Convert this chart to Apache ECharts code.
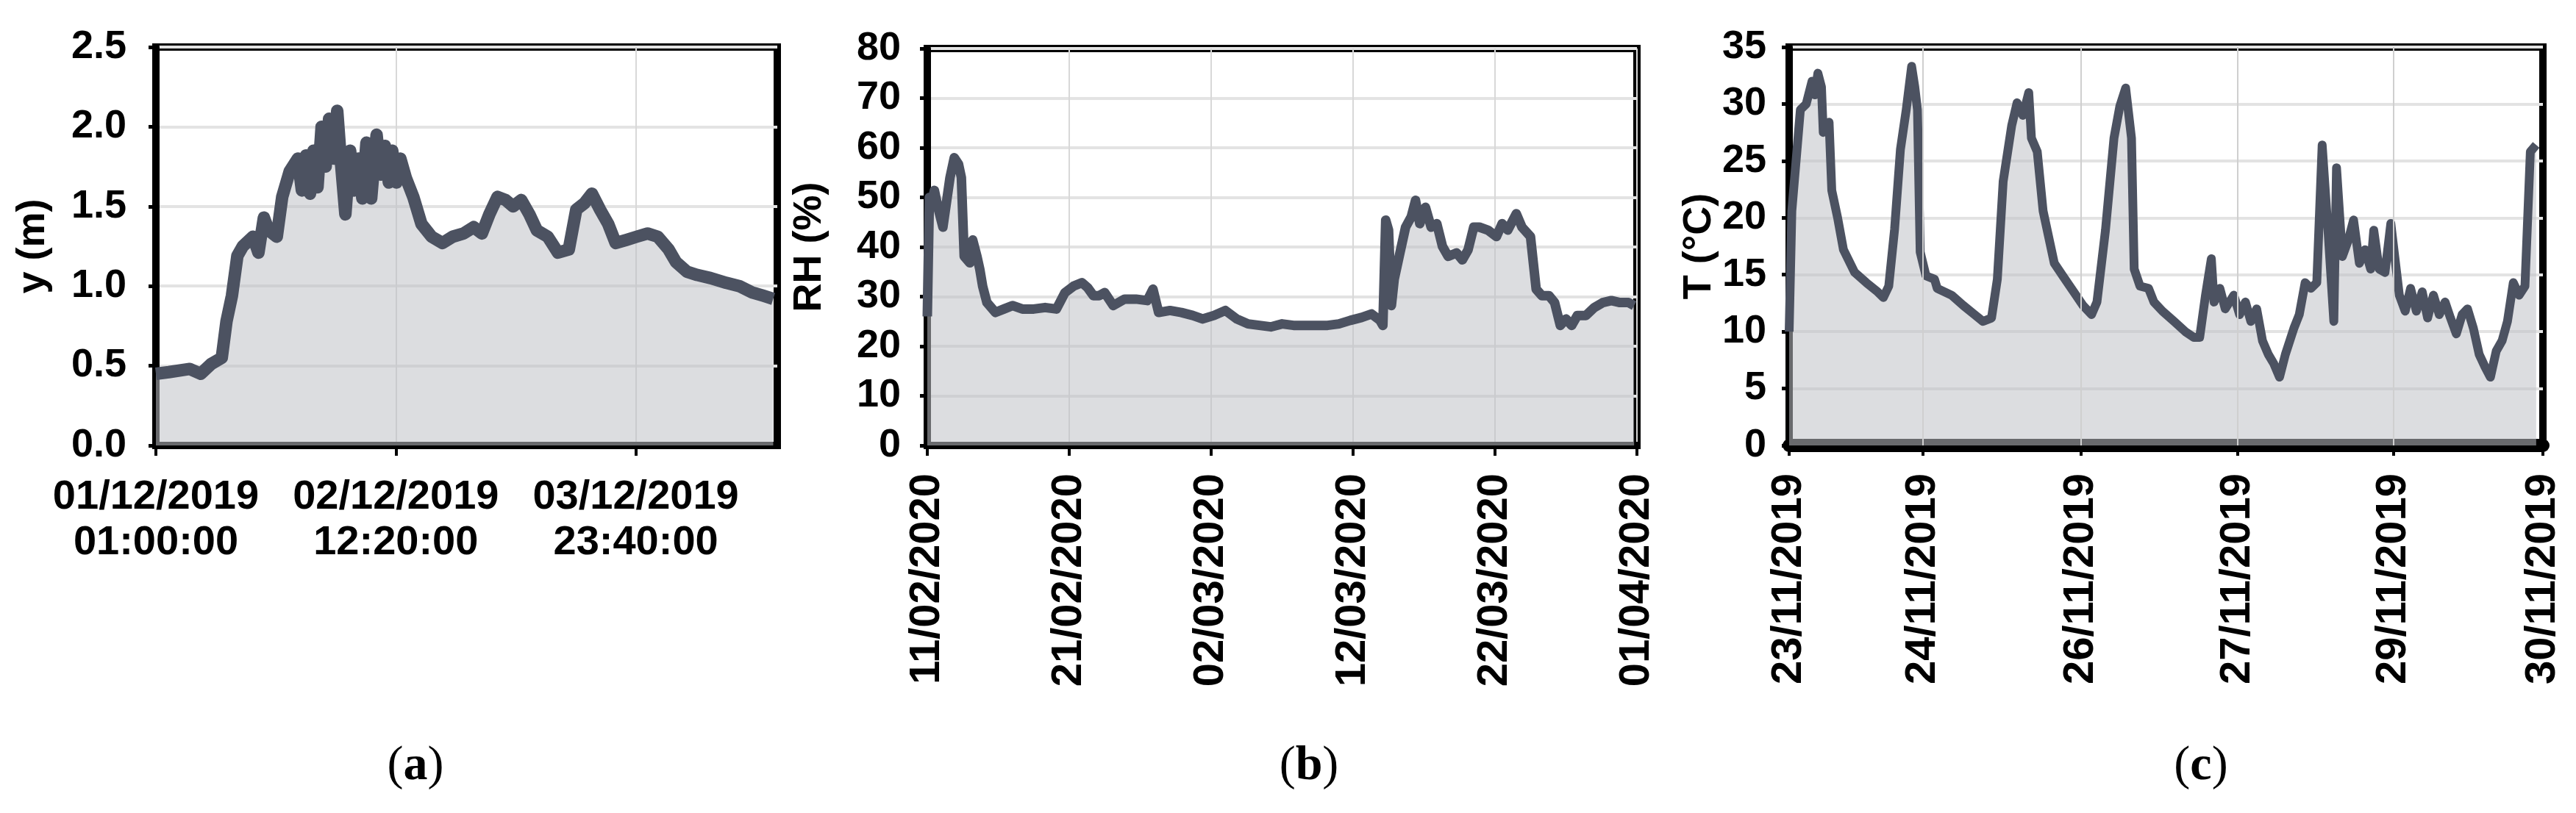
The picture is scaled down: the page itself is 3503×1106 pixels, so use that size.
<!DOCTYPE html>
<html>
<head>
<meta charset="utf-8">
<title>y (m), RH (%), T (°C)</title>
<script src="https://cdn.jsdelivr.net/npm/echarts@6/dist/echarts.min.js"></script>
<style>
  html, body { margin: 0; padding: 0; background: #fff; }
  #chart { width: 3503px; height: 1106px; }
</style>
</head>
<body>
<div id="chart"></div>
<script>
// (a) y (m): hours since 01/12/2019 01:00:00
const aHours = [0, 1.9, 5.0, 6.6, 8.1, 9.7, 10.4, 11.2, 12.0, 12.8, 14.3, 15.1, 15.9, 16.6, 17.8, 18.6, 19.7, 20.9, 21.5, 22.1,
  22.7, 23.2, 23.8, 24.4, 25.0, 25.5, 26.2, 26.7, 27.3, 27.9, 28.6, 29.2, 29.8, 30.4, 31.0, 31.7, 32.5, 33.1, 33.7, 34.3,
  34.8, 35.4, 36.0, 36.8, 37.9, 39.1, 40.6, 42.2, 43.7, 45.3, 46.8, 48.0, 49.1, 50.3, 51.5, 52.6, 53.8, 55.0, 56.1, 57.7,
  59.2, 60.8, 61.9, 63.1, 64.2, 65.4, 66.6, 67.7, 69.3, 70.8, 72.4, 73.9, 75.5, 76.6, 78.2, 79.7, 81.7, 84.0, 85.9, 87.8,
  89.4, 90.9];
const aLevel = [0.45, 0.46, 0.48, 0.45, 0.51, 0.55, 0.78, 0.94, 1.19, 1.25, 1.31, 1.21, 1.43, 1.35, 1.31, 1.56, 1.72, 1.80, 1.60, 1.82,
  1.58, 1.85, 1.62, 2.00, 1.75, 2.05, 1.80, 2.10, 1.75, 1.45, 1.85, 1.60, 1.80, 1.55, 1.90, 1.55, 1.95, 1.70, 1.88, 1.65,
  1.85, 1.65, 1.80, 1.68, 1.56, 1.39, 1.31, 1.27, 1.31, 1.33, 1.37, 1.33, 1.45, 1.56, 1.54, 1.50, 1.54, 1.45, 1.35, 1.31,
  1.21, 1.23, 1.48, 1.52, 1.58, 1.48, 1.39, 1.27, 1.29, 1.31, 1.33, 1.31, 1.23, 1.15, 1.09, 1.07, 1.05, 1.02, 1.00, 0.96,
  0.94, 0.92];
const aTicks = [0, 35.333, 70.667];
const aTickLabels = ['01/12/2019\n01:00:00', '02/12/2019\n12:20:00', '03/12/2019\n23:40:00'];

// (b) RH (%): days since 11/02/2020
const bDays = [0, 0.15, 0.3, 0.5, 0.8, 1.1, 1.4, 1.6, 1.9, 2.2, 2.4, 2.6, 3.0, 3.2, 3.5, 3.7, 3.9, 4.2, 4.8, 5.4,
  6.0, 6.7, 7.5, 8.3, 9.1, 9.7, 10.3, 10.9, 11.3, 11.7, 12.1, 12.5, 13.1, 13.9, 14.7, 15.5, 15.9, 16.3, 17.1, 17.9,
  18.7, 19.4, 20.2, 21.0, 21.8, 22.6, 23.4, 24.2, 25.0, 25.8, 26.6, 27.4, 28.2, 29.0, 29.8, 30.6, 31.3, 31.9, 32.1, 32.3,
  32.5, 32.7, 32.9, 33.3, 33.7, 34.1, 34.4, 34.7, 35.1, 35.5, 35.9, 36.3, 36.7, 37.3, 37.7, 38.1, 38.5, 38.9, 39.5, 40.1,
  40.5, 40.9, 41.5, 41.9, 42.5, 42.9, 43.3, 43.8, 44.2, 44.6, 45.0, 45.4, 45.8, 46.4, 47.0, 47.6, 48.2, 48.8, 49.4, 49.8];
const bRH = [26, 50, 48.7, 51.4, 47.4, 44, 50, 54, 58, 56.7, 54, 38.1, 36.8, 41.4, 38.1, 35.5, 32.1, 28.8, 26.8, 27.5,
  28.2, 27.5, 27.5, 27.8, 27.5, 30.8, 32.1, 32.8, 31.8, 30.2, 30.2, 30.8, 28.2, 29.5, 29.5, 29.2, 31.5, 26.8, 27.2, 26.8,
  26.2, 25.5, 26.2, 27.2, 25.5, 24.5, 24.2, 23.9, 24.5, 24.2, 24.2, 24.2, 24.2, 24.5, 25.2, 25.8, 26.5, 25.2, 24.2, 45.4,
  43.4, 28.2, 33.5, 38.8, 44, 46.1, 49.4, 44.7, 48, 44, 44.7, 40.1, 38.1, 38.8, 37.4, 39.4, 44, 44, 43.4, 42.1,
  44.7, 43.4, 46.7, 44, 42.1, 31.5, 30.2, 30.2, 28.8, 24.2, 25.5, 24.2, 26.2, 26.2, 27.8, 28.8, 29.2, 28.8, 28.8, 28.2];
const bTicks = [0, 10, 20, 30, 40, 50];
const bTickLabels = ['11/02/2020', '21/02/2020', '02/03/2020', '12/03/2020', '22/03/2020', '01/04/2020'];

// (c) T (°C): hours since the start of the record on 23/11/2019
const cHours = [0, 0.6, 2.5, 3.8, 5.1, 5.7, 6.4, 7.2, 7.6, 8.9, 9.5, 10.8, 12.1, 14.6, 17.2, 19.7, 21.0, 22.2, 23.5, 24.8, 26.1,
  27.3, 28.0, 28.6, 29.2, 30.5, 32.4, 33.0, 36.2, 38.8, 41.3, 43.2, 45.1, 46.4, 47.7, 49.6, 50.8, 52.1, 53.4, 54.0, 55.3,
  56.6, 59.1, 61.0, 62.9, 65.5, 67.4, 68.6, 70.5, 72.4, 73.7, 75.0, 76.3, 76.9, 78.2, 80.1, 81.3, 83.2, 85.8, 88.3, 90.2,
  91.5, 92.8, 94.1, 94.7, 96.0, 97.2, 99.1, 100.4, 101.7, 102.9, 104.2, 105.5, 106.8, 108.0, 109.3, 110.6, 112.5, 113.7, 115.0, 116.3,
  117.6, 118.8, 120.1, 121.4, 122.0, 123.3, 124.6, 125.8, 127.1, 128.4, 129.6, 130.3, 131.5, 132.8, 134.1, 135.4, 136.0, 137.3, 138.5, 139.8,
  141.1, 142.3, 143.6, 144.9, 146.2, 147.4, 148.7, 150.0, 151.2, 152.5, 153.8, 155.1, 156.3, 157.6, 158.9, 160.1, 161.4, 162.7, 164.0, 165.2,
  166.5];
const cTemp = [10, 20.6, 29.5, 30, 32, 30.8, 32.7, 31.5, 27.5, 28.4, 22.4, 20, 17.2, 15.2, 14.3, 13.5, 13, 14, 19, 26, 29.5,
  33.3, 31.5, 29.5, 17, 14.9, 14.6, 13.8, 13.2, 12.3, 11.5, 10.9, 11.2, 14.6, 23.2, 28.1, 30.1, 29, 31, 27, 25.8,
  20.6, 16, 14.9, 13.8, 12.3, 11.5, 12.6, 18.9, 27, 29.8, 31.4, 27, 15.5, 14, 13.8, 12.6, 11.8, 10.9, 10, 9.5,
  9.5, 13.2, 16.4, 12.6, 13.8, 12, 13.2, 11.5, 12.6, 10.9, 12, 9.2, 8, 7.2, 6, 8, 10.3, 11.5, 14.3, 13.8,
  14.3, 26.4, 18.9, 10.9, 24.4, 16.6, 18, 19.8, 16, 17.2, 15.5, 18.9, 15.5, 15.2, 19.5, 15.2, 13.2, 11.8, 13.8, 11.8,
  13.5, 11.2, 13.2, 11.5, 12.6, 11.2, 9.8, 11.5, 12, 10.3, 8, 6.9, 6, 8.3, 9.2, 10.9, 14.3, 13.2, 14, 25.8,
  26.4];
const cTicks = [0, 29.8, 65, 100, 134.7, 168];
const cTickLabels = ['23/11/2019', '24/11/2019', '26/11/2019', '27/11/2019', '29/11/2019', '30/11/2019'];

const FONT = "'Liberation Sans', Arial, sans-serif";
const LINE = '#4c5261';

// pick the label of a tick value
function tickLabel(ticks, labels) {
  return function (v) {
    const i = ticks.findIndex(t => Math.abs(t - v) < 1e-3);
    return i < 0 ? '' : labels[i];
  };
}

function yAxis(idx, max, interval, name, nameGap, margin, digits) {
  return {
    type: 'value', gridIndex: idx, min: 0, max: max, interval: interval,
    name: name, nameLocation: 'middle', nameGap: nameGap,
    nameTextStyle: { fontFamily: FONT, fontWeight: 'bold', fontSize: 54, color: '#000' },
    axisLine: { show: true, lineStyle: { color: '#000', width: 10 } },
    axisTick: { show: true, length: 10, lineStyle: { color: '#000', width: 5 } },
    axisLabel: {
      margin: margin, fontFamily: FONT, fontWeight: 'bold', fontSize: 54, color: '#000',
      formatter: v => v.toFixed(digits)
    },
    splitLine: { show: true, lineStyle: { color: '#e3e3e3', width: 4 } }
  };
}

function xAxis(idx, max, ticks, labels, opts) {
  return {
    type: 'value', gridIndex: idx, min: 0, max: max, interval: opts.interval,
    axisLine: { show: true, onZero: false, lineStyle: { color: '#000', width: opts.lineWidth || 10 } },
    axisTick: { show: true, customValues: ticks, length: 14, lineStyle: { color: '#000', width: 4 } },
    axisLabel: {
      customValues: ticks, rotate: opts.rotate || 0, margin: opts.margin,
      fontFamily: FONT, fontWeight: 'bold', fontSize: opts.fontSize, lineHeight: 62, color: '#000',
      formatter: tickLabel(ticks, labels)
    },
    splitLine: { show: opts.split, lineStyle: { color: '#d8d8d8', width: 2 } }
  };
}

function areaSeries(idx, xs, ys, width, extra) {
  return Object.assign({
    type: 'line', xAxisIndex: idx, yAxisIndex: idx,
    data: xs.map((x, i) => [x, ys[i]]),
    showSymbol: false, symbol: 'none',
    lineStyle: { color: LINE, width: width, join: 'round' },
    areaStyle: { color: '#bfc1c6', opacity: 0.55 },
    z: 3
  }, extra || {});
}

const chart = echarts.init(document.getElementById('chart'), null, { renderer: 'canvas' });

chart.setOption({
  backgroundColor: '#fff',
  animation: false,
  grid: [
    { left: 212, top: 64, width: 845, height: 542, show: true, borderColor: '#000', borderWidth: 10 },
    { left: 1261, top: 66, width: 965, height: 540, show: true, borderColor: '#000', borderWidth: 10 },
    { left: 2433, top: 64, width: 1025, height: 542, show: true, borderColor: '#000', borderWidth: 10 }
  ],
  xAxis: [
    xAxis(0, 91.5, aTicks, aTickLabels, { interval: 35.333, margin: 40, fontSize: 56, split: true }),
    xAxis(1, 50, bTicks, bTickLabels, { interval: 10, margin: 38, fontSize: 58, rotate: 90, split: true }),
    xAxis(2, 168, cTicks, cTickLabels, { margin: 38, fontSize: 58, rotate: 90, split: false, lineWidth: 18 })
  ],
  yAxis: [
    yAxis(0, 2.5, 0.5, 'y (m)', 140, 40, 1),
    yAxis(1, 80, 10, 'RH (%)', 133, 36, 0),
    yAxis(2, 35, 5, 'T (°C)', 69, 31, 0)
  ],
  series: [
    areaSeries(0, aHours, aLevel, 17),
    areaSeries(1, bDays, bRH, 13),
    areaSeries(2, cHours, cTemp, 12, {
      // vertical grid lines of (c) sit on its uneven date ticks
      markLine: {
        silent: true, symbol: ['none', 'none'], label: { show: false },
        lineStyle: { color: '#cfcfcf', width: 2, type: 'solid' },
        data: cTicks.slice(1, -1).map(v => ({ xAxis: v }))
      }
    })
  ],
  graphic: [
    ['a', 565], ['b', 1780], ['c', 2993]
  ].map(([t, x]) => ({
    type: 'text', x: x, y: 1043,
    style: {
      text: '{p|(}{b|' + t + '}{p|)}',
      align: 'center', verticalAlign: 'middle',
      rich: {
        p: { fontFamily: "'Liberation Serif', 'Times New Roman', serif", fontSize: 66, fill: '#000' },
        b: { fontFamily: "'Liberation Serif', 'Times New Roman', serif", fontSize: 66, fontWeight: 'bold', fill: '#000' }
      }
    }
  }))
});
</script>
</body>
</html>
